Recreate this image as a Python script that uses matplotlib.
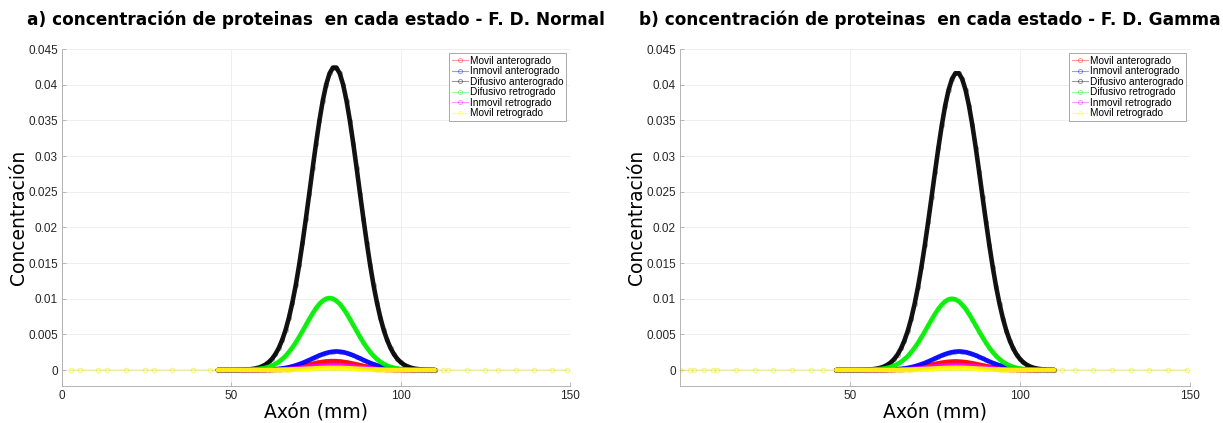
import matplotlib.pyplot as plt
from matplotlib.lines import Line2D

# posiciones a lo largo del axon (mm)
x_centro = list(range(46, 111))
x_cola_izq_a = [2.6, 5.3, 10.7, 13.4, 19.0, 24.5, 27.2, 32.6, 38.7, 43.7]
x_cola_der_a = [112.5, 114.1, 119.5, 124.9, 128.8, 134.0, 139.5, 144.6, 149.2]
x_cola_izq_b = [0.0, 2.9, 4.1, 7.1, 9.8, 10.9, 16.5, 22.1, 27.4, 32.9, 38.4, 42.2]
x_cola_der_b = [112.5, 116.2, 121.6, 127.0, 132.6, 138.0, 143.5, 149.2]

nombres = ["Movil anterogrado", "Inmovil anterogrado", "Difusivo anterogrado",
           "Difusivo retrogrado", "Inmovil retrogrado", "Movil retrogrado"]
colores = ["#ff0000", "#0000ff", "#000000", "#00ee00", "#ff00ff", "#ffff00"]

# a) F. D. Normal  (x = 46 ... 110 mm)
normal_movil_ant = [
    0, 0, 0, 0, 0, 0, 0, 0.000001, 0.000002, 0.000003,
    0.000005, 0.000008, 0.000012, 0.000018, 0.000026, 0.000038, 0.000055, 0.000077, 0.000106, 0.000142,
    0.000189, 0.000245, 0.000312, 0.000389, 0.000477, 0.000573, 0.000674, 0.000779, 0.000883, 0.000982,
    0.001071, 0.001146, 0.001203, 0.001238, 0.00125, 0.001238, 0.001203, 0.001146, 0.001071, 0.000982,
    0.000883, 0.000779, 0.000674, 0.000573, 0.000477, 0.000389, 0.000312, 0.000245, 0.000189, 0.000142,
    0.000106, 0.000077, 0.000055, 0.000038, 0.000026, 0.000018, 0.000012, 0.000008, 0.000005, 0.000003,
    0.000002, 0.000001, 0, 0, 0]
normal_inmovil_ant = [
    0, 0, 0, 0, 0, 0, 0, 0.000001, 0.000002, 0.000004,
    0.000006, 0.00001, 0.000016, 0.000024, 0.000037, 0.000055, 0.00008, 0.000114, 0.00016, 0.00022,
    0.000296, 0.000392, 0.000509, 0.000648, 0.000809, 0.000991, 0.001191, 0.001402, 0.001621, 0.001837,
    0.002043, 0.002228, 0.002384, 0.002502, 0.002575, 0.0026, 0.002575, 0.002502, 0.002384, 0.002228,
    0.002043, 0.001837, 0.001621, 0.001402, 0.001191, 0.000991, 0.000809, 0.000648, 0.000509, 0.000392,
    0.000296, 0.00022, 0.00016, 0.000114, 0.00008, 0.000055, 0.000037, 0.000024, 0.000016, 0.00001,
    0.000006, 0.000004, 0.000002, 0.000001, 0]
normal_difusivo_ant = [
    0, 0, 0.0000017, 0.000003, 0.0000055, 0.0000098, 0.000017, 0.000029, 0.000049, 0.000081,
    0.000132, 0.000208, 0.000323, 0.000493, 0.00074, 0.001084, 0.001564, 0.002214, 0.003077, 0.004195,
    0.005593, 0.007331, 0.009422, 0.011849, 0.014667, 0.017808, 0.021186, 0.024701, 0.02828, 0.031748,
    0.03496, 0.037774, 0.040014, 0.041586, 0.042398, 0.042398, 0.041586, 0.040014, 0.037774, 0.03496,
    0.031748, 0.02828, 0.024701, 0.021186, 0.017808, 0.014667, 0.011849, 0.009422, 0.007331, 0.005593,
    0.004195, 0.003077, 0.002214, 0.001564, 0.001084, 0.00074, 0.000493, 0.000323, 0.000208, 0.000132,
    0.000081, 0.000049, 0.000029, 0.000017, 0.00001]
normal_difusivo_ret = [
    0, 0, 0.000001, 0.000002, 0.000003, 0.000005, 0.000009, 0.000015, 0.000024, 0.000039,
    0.000062, 0.000095, 0.000143, 0.000213, 0.00031, 0.000443, 0.000622, 0.000855, 0.001149, 0.001524,
    0.001978, 0.002519, 0.003143, 0.003851, 0.004626, 0.005448, 0.006296, 0.007138, 0.007938, 0.008656,
    0.009262, 0.009718, 0.010003, 0.0101, 0.010003, 0.009718, 0.009262, 0.008656, 0.007938, 0.007138,
    0.006296, 0.005448, 0.004626, 0.003851, 0.003143, 0.002519, 0.001978, 0.001524, 0.001149, 0.000855,
    0.000622, 0.000443, 0.00031, 0.000213, 0.000143, 0.000095, 0.000062, 0.000039, 0.000024, 0.000015,
    0.000009, 0.000005, 0.000003, 0.000002, 0.000001]
normal_inmovil_ret = [
    0, 0, 0, 0, 0, 0, 0, 0, 0.000001, 0.000002,
    0.000003, 0.000004, 0.000007, 0.00001, 0.000015, 0.000021, 0.000031, 0.000043, 0.000059, 0.00008,
    0.000106, 0.000137, 0.000175, 0.000218, 0.000267, 0.000321, 0.000378, 0.000436, 0.000495, 0.00055,
    0.0006, 0.000642, 0.000674, 0.000693, 0.0007, 0.000693, 0.000674, 0.000642, 0.0006, 0.00055,
    0.000495, 0.000436, 0.000378, 0.000321, 0.000267, 0.000218, 0.000175, 0.000137, 0.000106, 0.00008,
    0.000059, 0.000043, 0.000031, 0.000021, 0.000015, 0.00001, 0.000007, 0.000004, 0.000003, 0.000002,
    0.000001, 0, 0, 0, 0]
normal_movil_ret = [
    0, 0, 0, 0, 0, 0, 0, 0, 0, 0,
    0.000001, 0.000002, 0.000003, 0.000004, 0.000006, 0.000009, 0.000013, 0.000018, 0.000025, 0.000034,
    0.000045, 0.000059, 0.000075, 0.000093, 0.000114, 0.000137, 0.000162, 0.000187, 0.000212, 0.000236,
    0.000257, 0.000275, 0.000289, 0.000297, 0.0003, 0.000297, 0.000289, 0.000275, 0.000257, 0.000236,
    0.000212, 0.000187, 0.000162, 0.000137, 0.000114, 0.000093, 0.000075, 0.000059, 0.000045, 0.000034,
    0.000025, 0.000018, 0.000013, 0.000009, 0.000006, 0.000004, 0.000003, 0.000002, 0.000001, 0,
    0, 0, 0, 0, 0]

# b) F. D. Gamma  (x = 46 ... 110 mm)
gamma_movil_ant = [
    0, 0, 0, 0, 0, 0, 0, 0, 0.000001, 0.000002,
    0.000003, 0.000005, 0.000007, 0.000011, 0.000017, 0.000025, 0.000037, 0.000053, 0.000074, 0.000102,
    0.000137, 0.000181, 0.000235, 0.000299, 0.000373, 0.000458, 0.00055, 0.000647, 0.000748, 0.000848,
    0.000943, 0.001028, 0.0011, 0.001155, 0.001188, 0.0012, 0.001188, 0.001155, 0.0011, 0.001028,
    0.000943, 0.000848, 0.000748, 0.000647, 0.00055, 0.000458, 0.000373, 0.000299, 0.000235, 0.000181,
    0.000137, 0.000102, 0.000074, 0.000053, 0.000037, 0.000025, 0.000017, 0.000011, 0.000007, 0.000005,
    0.000003, 0.000002, 0.000001, 0, 0]
gamma_inmovil_ant = [
    0, 0, 0, 0, 0, 0, 0, 0, 0.000001, 0.000002,
    0.000004, 0.000006, 0.00001, 0.000016, 0.000024, 0.000037, 0.000055, 0.00008, 0.000114, 0.00016,
    0.00022, 0.000296, 0.000392, 0.000509, 0.000648, 0.000809, 0.000991, 0.001191, 0.001402, 0.001621,
    0.001837, 0.002043, 0.002228, 0.002384, 0.002502, 0.002575, 0.0026, 0.002575, 0.002502, 0.002384,
    0.002228, 0.002043, 0.001837, 0.001621, 0.001402, 0.001191, 0.000991, 0.000809, 0.000648, 0.000509,
    0.000392, 0.000296, 0.00022, 0.00016, 0.000114, 0.00008, 0.000055, 0.000037, 0.000024, 0.000016,
    0.00001, 0.000006, 0.000004, 0.000002, 0.000001]
gamma_difusivo_ant = [
    0, 0, 0.000001, 0.000002, 0.000003, 0.000005, 0.00001, 0.000017, 0.000028, 0.000048,
    0.000079, 0.000129, 0.000204, 0.000317, 0.000484, 0.000726, 0.001063, 0.001535, 0.002173, 0.003019,
    0.004116, 0.005488, 0.007193, 0.009245, 0.011626, 0.014391, 0.017472, 0.020787, 0.024236, 0.027747,
    0.03115, 0.034302, 0.037063, 0.03926, 0.040803, 0.0416, 0.0416, 0.040803, 0.03926, 0.037063,
    0.034302, 0.03115, 0.027747, 0.024236, 0.020787, 0.017472, 0.014391, 0.011626, 0.009245, 0.007193,
    0.005488, 0.004116, 0.003019, 0.002173, 0.001535, 0.001063, 0.000726, 0.000484, 0.000317, 0.000204,
    0.000129, 0.000079, 0.000048, 0.000028, 0.000017]
gamma_difusivo_ret = [
    0, 0, 0, 0.000001, 0.000002, 0.000003, 0.000005, 0.000009, 0.000015, 0.000024,
    0.000039, 0.000061, 0.000094, 0.000142, 0.000211, 0.000307, 0.000439, 0.000616, 0.000847, 0.001138,
    0.001509, 0.001958, 0.002494, 0.003112, 0.003813, 0.00458, 0.005394, 0.006234, 0.007067, 0.007859,
    0.00857, 0.00917, 0.009622, 0.009904, 0.01, 0.009904, 0.009622, 0.00917, 0.00857, 0.007859,
    0.007067, 0.006234, 0.005394, 0.00458, 0.003813, 0.003112, 0.002494, 0.001958, 0.001509, 0.001138,
    0.000847, 0.000616, 0.000439, 0.000307, 0.000211, 0.000142, 0.000094, 0.000061, 0.000039, 0.000024,
    0.000015, 0.000009, 0.000005, 0.000003, 0.000002]
gamma_inmovil_ret = [
    0, 0, 0, 0, 0, 0, 0, 0, 0, 0.000001,
    0.000002, 0.000003, 0.000004, 0.000007, 0.00001, 0.000015, 0.000021, 0.000031, 0.000043, 0.000059,
    0.00008, 0.000106, 0.000137, 0.000175, 0.000218, 0.000267, 0.000321, 0.000378, 0.000436, 0.000495,
    0.00055, 0.0006, 0.000642, 0.000674, 0.000693, 0.0007, 0.000693, 0.000674, 0.000642, 0.0006,
    0.00055, 0.000495, 0.000436, 0.000378, 0.000321, 0.000267, 0.000218, 0.000175, 0.000137, 0.000106,
    0.00008, 0.000059, 0.000043, 0.000031, 0.000021, 0.000015, 0.00001, 0.000007, 0.000004, 0.000003,
    0.000002, 0.000001, 0, 0, 0]
gamma_movil_ret = [
    0, 0, 0, 0, 0, 0, 0, 0, 0, 0,
    0, 0.000001, 0.000002, 0.000003, 0.000004, 0.000006, 0.000009, 0.000013, 0.000018, 0.000025,
    0.000034, 0.000045, 0.000059, 0.000075, 0.000093, 0.000114, 0.000137, 0.000162, 0.000187, 0.000212,
    0.000236, 0.000257, 0.000275, 0.000289, 0.000297, 0.0003, 0.000297, 0.000289, 0.000275, 0.000257,
    0.000236, 0.000212, 0.000187, 0.000162, 0.000137, 0.000114, 0.000093, 0.000075, 0.000059, 0.000045,
    0.000034, 0.000025, 0.000018, 0.000013, 0.000009, 0.000006, 0.000004, 0.000003, 0.000002, 0.000001,
    0, 0, 0, 0, 0]

series_normal = [normal_movil_ant, normal_inmovil_ant, normal_difusivo_ant,
                 normal_difusivo_ret, normal_inmovil_ret, normal_movil_ret]
series_gamma = [gamma_movil_ant, gamma_inmovil_ant, gamma_difusivo_ant,
                gamma_difusivo_ret, gamma_inmovil_ret, gamma_movil_ret]

y_ticks = [0, 0.005, 0.01, 0.015, 0.02, 0.025, 0.03, 0.035, 0.04, 0.045]
y_tick_labels = ["0", "0.005", "0.01", "0.015", "0.02", "0.025", "0.03", "0.035", "0.04", "0.045"]
x_ticks_a = [0, 50, 100, 150]
x_ticks_b = [50, 100, 150]


def dibujar(ax, series, cola_izq, cola_der, x_ticks, titulo, titulo_x=0.5):
    for i, (vals, color) in enumerate(zip(series, colores)):
        # solo la ultima serie (Movil retrogrado) tiene puntos en las colas
        if i == len(series) - 1:
            xs = cola_izq + x_centro + cola_der
            ys = [0] * len(cola_izq) + vals + [0] * len(cola_der)
            ax.plot(xs, ys, color="#e8e800", lw=0.9, alpha=0.45, marker="o", ms=3.2,
                    mfc="none", mew=0.8, zorder=2)
        else:
            ax.plot(x_centro, vals, color=color, lw=0.8, alpha=0.3, marker="o", ms=3,
                    mfc="none", mew=0.7, zorder=2)
        # curva gruesa en la zona central
        ax.plot(x_centro, vals, color=color, lw=3.3, alpha=0.92,
                solid_capstyle="round", solid_joinstyle="round", zorder=3)

    ax.set_xlim(0, 150)
    ax.set_ylim(-0.00224, 0.045)
    ax.set_xticks(x_ticks)
    ax.set_yticks(y_ticks)
    ax.set_yticklabels(y_tick_labels)
    ax.tick_params(direction="in", length=3, width=0.5, colors="#a0a0a0",
                   labelcolor="#262626", labelsize=8.5, pad=3)
    for lab in ax.get_xticklabels() + ax.get_yticklabels():
        lab.set_family("Liberation Sans")
    ax.grid(True, color="#ececec", lw=0.6)
    ax.set_axisbelow(True)
    for lado in ["top", "right"]:
        ax.spines[lado].set_visible(False)
    for lado in ["left", "bottom"]:
        ax.spines[lado].set_color("#a8a8a8")
        ax.spines[lado].set_linewidth(0.6)

    ax.set_xlabel("Axón (mm)", fontsize=13.5, labelpad=0)
    ax.set_ylabel("Concentración", fontsize=13.5, labelpad=0)
    t = ax.set_title(titulo, fontsize=12.2, fontweight="bold", pad=17)
    t.set_x(titulo_x)

    handles = [Line2D([], [], color=c, lw=0.8, alpha=0.4, marker="o", ms=3,
                      mfc="none", mew=0.7) for c in colores]
    leg = ax.legend(handles, nombres, loc="upper right",
                    prop={"family": "Liberation Sans", "size": 7.3},
                    fancybox=False, framealpha=1, edgecolor="#9a9a9a",
                    handlelength=1.6, handletextpad=0.2, labelspacing=0.05,
                    borderpad=0.25, borderaxespad=0.4)
    leg.get_frame().set_linewidth(0.6)


fig = plt.figure(figsize=(12.23, 4.23), dpi=100)
ax1 = fig.add_axes([0.0507, 0.0875, 0.4154, 0.7966])
ax2 = fig.add_axes([0.556, 0.0875, 0.417, 0.7966])

dibujar(ax1, series_normal, x_cola_izq_a, x_cola_der_a, x_ticks_a,
        "a) concentración de proteinas  en cada estado - F. D. Normal")
dibujar(ax2, series_gamma, x_cola_izq_b, x_cola_der_b, x_ticks_b,
        "b) concentración de proteinas  en cada estado - F. D. Gamma", 0.49)

fig.savefig("out.png", dpi=100)
